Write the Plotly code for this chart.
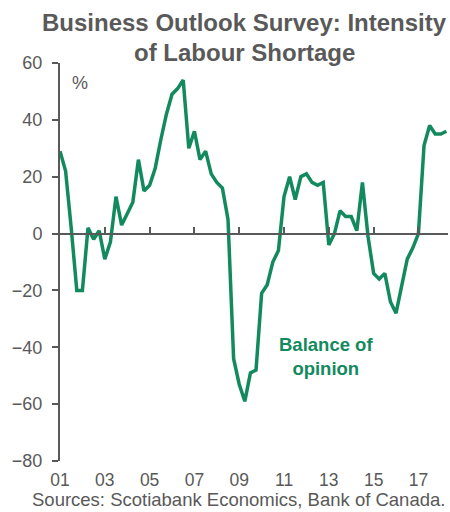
import plotly.graph_objects as go

start_year = 2001
balance = [29, 22, 2, -20, -20, 2, -2, 1, -9, -3,
           13, 3, 7, 11, 26, 15, 17, 23, 33, 42,
           49, 51, 54, 30, 36, 26, 29, 21, 18, 16,
           5, -44, -53, -59, -49, -48, -21, -18, -10, -6,
           13, 20, 12, 20, 21, 18, 17, 18, -4, 0,
           8, 6, 6, 1, 18, -1, -14, -16, -14, -24,
           -28, -19, -9, -5, 0, 31, 38, 35, 35, 36]
quarters = [start_year + i / 4 for i in range(len(balance))]
tick_vals = [2001, 2003, 2005, 2007, 2009, 2011, 2013, 2015, 2017]
tick_text = ["01", "03", "05", "07", "09", "11", "13", "15", "17"]
y_ticks = [-80, -60, -40, -20, 0, 20, 40, 60]
title_lines = ["Business Outlook Survey: Intensity", "of Labour Shortage"]

GREEN = "#138A5E"
GRAY = "#595959"
FONT = "Liberation Sans, Arial, sans-serif"

fig = go.Figure()
fig.add_trace(go.Scatter(x=quarters, y=balance, mode="lines",
                         line=dict(color=GREEN, width=3.5), showlegend=False,
                         hoverinfo="skip"))
# invisible trace on overlay axis so the zero-line axis is drawn
fig.add_trace(go.Scatter(x=[quarters[0]], y=[0], xaxis="x2", mode="markers",
                         marker=dict(opacity=0), showlegend=False, hoverinfo="skip"))

PL, PR, PT, PB = 60, 448, 63, 461
PW, PH = PR - PL, PB - PT


def px(x):
    return (x - PL) / PW


def py(y):
    return (PB - y) / PH


x_range = [2001, 2018.32]
annotations = [
    dict(text="<b>%s</b>" % title_lines[0], xref="paper", yref="paper",
         x=px(244.5), y=py(22), xanchor="center", yanchor="middle", showarrow=False,
         font=dict(size=24, color=GRAY)),
    dict(text="<b>%s</b>" % title_lines[1], xref="paper", yref="paper",
         x=px(244.5), y=py(52), xanchor="center", yanchor="middle", showarrow=False,
         font=dict(size=24, color=GRAY)),
    dict(text="%", xref="paper", yref="paper", x=px(80), y=py(83),
         xanchor="center", yanchor="middle", showarrow=False,
         font=dict(size=18, color=GRAY)),
    dict(text="<b>Balance of<br>opinion</b>", xref="paper", yref="paper",
         x=px(326), y=py(356), xanchor="center", yanchor="middle", showarrow=False,
         font=dict(size=18.5, color=GREEN)),
    dict(text="Sources: Scotiabank Economics, Bank of Canada.", xref="paper",
         yref="paper", x=px(447), y=py(499), xanchor="right", yanchor="middle",
         showarrow=False, font=dict(size=18.5, color=GRAY)),
]

fig.update_layout(
    width=450, height=512,
    margin=dict(l=PL, r=450 - PR, t=PT, b=512 - PB),
    paper_bgcolor="white", plot_bgcolor="white",
    font=dict(family=FONT, color=GRAY),
    xaxis=dict(range=x_range, tickvals=tick_vals, ticktext=tick_text,
               showline=False, showgrid=False, zeroline=False, ticks="",
               tickfont=dict(size=17.5, color=GRAY), ticklabelstandoff=6),
    xaxis2=dict(range=x_range, overlaying="x", anchor="free", position=80 / 140,
                side="bottom", tickvals=tick_vals, showticklabels=False,
                showline=True, linecolor=GRAY, linewidth=2, ticks="inside",
                ticklen=6, tickwidth=1.5, tickcolor=GRAY, showgrid=False,
                zeroline=False),
    yaxis=dict(range=[-80, 60], tickvals=y_ticks, showgrid=False, zeroline=False,
               showline=True, linecolor=GRAY, linewidth=2, ticks="outside",
               ticklen=6, tickwidth=1.5, tickcolor=GRAY,
               tickfont=dict(size=18, color=GRAY), ticklabelstandoff=6),
    annotations=annotations,
)
fig.write_html("out.html", config={"displayModeBar": False},
               post_script="document.body.style.margin='0';document.body.style.overflow='hidden';")
